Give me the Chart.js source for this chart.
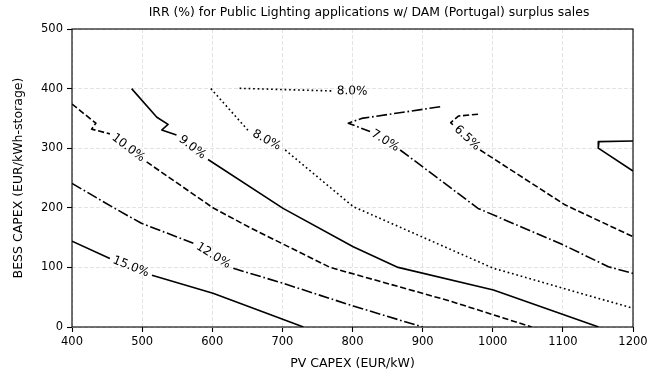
<!DOCTYPE html>
<html><head><meta charset="utf-8">
<style>html,body{margin:0;padding:0;background:#fff;overflow:hidden}#wrap{width:663px;height:375px;position:relative}</style>
<script src="https://cdn.jsdelivr.net/npm/chart.js@4.4.1/dist/chart.umd.min.js"></script>
</head><body><div id="wrap"><canvas id="c" width="663" height="375"></canvas></div>
<script>
// ---- data ----
const titleText = 'IRR (%) for Public Lighting applications w/ DAM (Portugal) surplus sales';
const xTitle = 'PV CAPEX (EUR/kW)';
const yTitle = 'BESS CAPEX (EUR/kWh-storage)';
const xTicks = [400, 500, 600, 700, 800, 900, 1000, 1100, 1200];
const yTicks = [0, 100, 200, 300, 400, 500];

// contour paths [PV CAPEX, BESS CAPEX]; a null value marks the inline label gap
const irr15 = [[400,144],[454,115],[484,null],[514,87],[601,56.5],[668,27.4],[730,0]];
const irr12 = [[400,241],[461,199],[499,174],[573,140.5],[601,null],[630,98.5],[701,73.3],[801,35.2],[900,0]];
const irr10 = [[400,374],[434,342],[428,332],[454,324],[480,null],[506.5,277],[601,200],[654,166.6],[768,100],[939,43.6],[1055.5,0]];
const irr9  = [[485,400],[521,352],[537,340],[528,330.5],[549,322],[571,null],[594,281],[701,199],[801,134.7],[865,100],[1001,62],[1151,0]];
const irr8a = [[639,400.5],[773,396],[800,null],[826,395]];
const irr8b = [[598,400],[651,330],[677,null],[704,297],[801,202],[1001,98.5],[1200,31.4]];
const irr7  = [[925,369.6],[813,350],[794,342],[825,328],[846,null],[868,297],[979,199],[1101,137.6],[1165,101],[1200,90]];
const irr65 = [[979,357],[951,354],[940,343],[945,337],[963,null],[982,297],[1103,205],[1200,151.5]];
const irr6  = [[1200,312],[1151.5,311],[1150.5,300],[1200,261.7]];

const DASHED = [6.2, 2.7], DASHDOT = [10.8, 2.7, 1.7, 2.7], DOTTED = [1.7, 2.8], SOLID = [];

function ds(points, dash, label) {
  return {
    data: points.map(p => ({x: p[0], y: p[1]})),
    showLine: true, spanGaps: false, pointRadius: 0, pointHoverRadius: 0,
    borderColor: '#000', borderWidth: 1.6, borderDash: dash,
    borderJoinStyle: 'round', borderCapStyle: 'butt', tension: 0, fill: false,
    contourLabel: label
  };
}

const FONT = "'DejaVu Sans', sans-serif";
Chart.defaults.font.family = FONT;

const labelPlugin = {
  id: 'contourLabels',
  afterDatasetsDraw(chart) {
    const {ctx, scales: {x, y}} = chart;
    ctx.save();
    ctx.fillStyle = '#000';
    ctx.font = '12px ' + FONT;
    ctx.textAlign = 'center';
    ctx.textBaseline = 'middle';
    chart.data.datasets.forEach(d => {
      if (!d.contourLabel) return;
      const i = d.data.findIndex(p => p.y === null);
      if (i < 1) return;
      const a = d.data[i - 1], b = d.data[i + 1];
      const ax = x.getPixelForValue(a.x), ay = y.getPixelForValue(a.y);
      const bx = x.getPixelForValue(b.x), by = y.getPixelForValue(b.y);
      let ang = Math.atan2(by - ay, bx - ax);
      if (ang > Math.PI / 2) ang -= Math.PI;
      if (ang < -Math.PI / 2) ang += Math.PI;
      ctx.save();
      ctx.translate((ax + bx) / 2, (ay + by) / 2);
      ctx.rotate(ang);
      ctx.fillText(d.contourLabel, 0, 0);
      ctx.restore();
    });
    ctx.restore();
  }
};

const framePlugin = {
  id: 'frameAndTitles',
  afterDraw(chart) {
    const {ctx, chartArea: a} = chart;
    ctx.save();
    ctx.strokeStyle = '#000';
    ctx.lineWidth = 1.1;
    ctx.strokeRect(a.left, a.top, a.right - a.left, a.bottom - a.top);
    ctx.fillStyle = '#000';
    ctx.textAlign = 'center';
    ctx.textBaseline = 'middle';
    ctx.font = '12.4px ' + FONT;
    ctx.fillText(titleText, 369, 13);
    ctx.font = '12.5px ' + FONT;
    ctx.fillText(xTitle, (a.left + a.right) / 2, 364);
    ctx.save();
    ctx.translate(19, (a.top + a.bottom) / 2);
    ctx.rotate(-Math.PI / 2);
    ctx.fillText(yTitle, 0, 0);
    ctx.restore();
    ctx.restore();
  }
};

new Chart(document.getElementById('c'), {
  type: 'scatter',
  data: {
    datasets: [
      ds(irr15, SOLID, '15.0%'),
      ds(irr12, DASHDOT, '12.0%'),
      ds(irr10, DASHED, '10.0%'),
      ds(irr9, SOLID, '9.0%'),
      ds(irr8a, DOTTED, '8.0%'),
      ds(irr8b, DOTTED, '8.0%'),
      ds(irr7, DASHDOT, '7.0%'),
      ds(irr65, DASHED, '6.5%'),
      ds(irr6, SOLID, null)
    ]
  },
  options: {
    responsive: false, animation: false, devicePixelRatio: 1,
    layout: {padding: {top: 29, right: 30, left: 0, bottom: 0}},
    plugins: {legend: {display: false}, tooltip: {enabled: false}, title: {display: false}},
    scales: {
      x: {
        type: 'linear', min: 400, max: 1200,
        afterBuildTicks: s => { s.ticks = xTicks.map(v => ({value: v})); },
        afterFit: s => { s.height = 48; },
        ticks: {color: '#000', font: {size: 11.5}, padding: 3, maxRotation: 0, autoSkip: false, callback: v => String(v)},
        grid: {color: '#e3e3e3', lineWidth: 1, tickLength: 5, tickColor: '#000', tickWidth: 1.1, tickBorderDash: []},
        border: {display: false, dash: [4, 2]}
      },
      y: {
        type: 'linear', min: 0, max: 500,
        afterBuildTicks: s => { s.ticks = yTicks.map(v => ({value: v})); },
        afterFit: s => { s.width = 72; },
        ticks: {color: '#000', font: {size: 11.5}, padding: 4, autoSkip: false, callback: v => String(v)},
        grid: {color: '#e3e3e3', lineWidth: 1, tickLength: 5, tickColor: '#000', tickWidth: 1.1, tickBorderDash: []},
        border: {display: false, dash: [4, 2]}
      }
    }
  },
  plugins: [labelPlugin, framePlugin]
});
</script></body></html>
